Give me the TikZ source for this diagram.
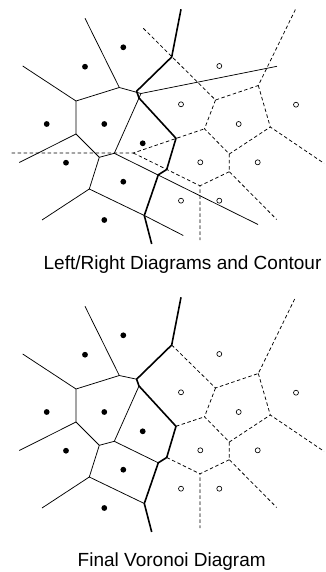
\documentclass[tikz,border=0pt]{standalone}
\usepackage{fontspec}
\setmainfont{Liberation Sans}
\usepackage{tikz}
\usepackage{xcolor}
\usetikzlibrary{calc}
\definecolor{ink}{HTML}{000000}

% vertices of both diagrams and the contour
\newcommand{\vorpoints}{%
  \coordinate (A) at (119.3,87.5);
  \coordinate (B) at (76,101);
  \coordinate (C) at (76,134);
  \coordinate (D) at (99.3,157.3);
  \coordinate (E) at (114.3,153.3);
  \coordinate (F) at (89.3,189);
  \coordinate (G) at (144.3,215.5);
  \coordinate (V) at (141,93.5);
  \coordinate (a1) at (85,18.3);
  \coordinate (b1) at (22.7,66);
  \coordinate (c1) at (19.3,162.5);
  \coordinate (f1) at (42,220);
  \coordinate (g1) at (183.3,235.5);
  \coordinate (e1) at (258,224.5);
  \coordinate (v1) at (277,66.3);
  \coordinate (k0) at (181,9.3);
  \coordinate (k1) at (171.7,57);
  \coordinate (H) at (136.6,91.2);
  \coordinate (I) at (139,98);
  \coordinate (k4) at (176,138.3);
  \coordinate (k5) at (166.7,169.5);
  \coordinate (k6) at (158.3,174.8);
  \coordinate (k7) at (151.7,244);
  \coordinate (R1) at (215.5,100);
  \coordinate (R2) at (258.3,85.5);
  \coordinate (R3) at (270.3,127);
  \coordinate (R4) at (204.5,128.8);
  \coordinate (R5) at (229.3,154);
  \coordinate (R6) at (229.3,171.7);
  \coordinate (R7) at (200,185.8);
  \coordinate (R8) at (133.3,153);
  \coordinate (r0) at (143.3,28.3);
  \coordinate (r2) at (295.5,9.3);
  \coordinate (r3) at (324,163.3);
  \coordinate (r6) at (276.7,219.5);
  \coordinate (r7) at (200,240);
  \coordinate (r8) at (11.7,153);
}
\newcommand{\vorsites}{%
  \foreach \p in {(123.3,47.3),(85,66.7),(46.7,124),(104.3,124),(142.7,143.3),(66,162.7),(123.3,181.7),(104.3,220)}
    \fill[lsite] \p circle (2.9pt);
  \foreach \p in {(219.3,66),(181,104.3),(296,104.7),(238.7,124),(200.3,162.3),(257.7,162.3),(181,200.7),(219.3,200.7)}
    \draw[rsite] \p circle (2.5pt);
}

\begin{document}
\begin{tikzpicture}[x=1pt,y=-1pt,
    leftedge/.style={ink,line width=0.75pt},
    contour/.style={ink,line width=1.6pt,line join=round},
    rightedge/.style={ink,line width=0.75pt,dash pattern=on 3.5pt off 2.5pt},
    lsite/.style={fill=ink},
    rsite/.style={draw=ink,fill=white,line width=0.65pt},
    caption/.style={inner sep=0pt,text=ink,font=\fontsize{19}{22}\selectfont}]
  \useasboundingbox (0,0) rectangle (325,572);
  % left/right diagrams and the contour
  \begin{scope}
    \vorpoints
    \draw[leftedge] (a1) -- (A) -- (B) -- (b1);
    \draw[leftedge] (B) -- (C) -- (c1);
    \draw[leftedge] (C) -- (D) -- (E) -- (V) -- (v1);
    \draw[leftedge] (A) -- (V);
    \draw[leftedge] (D) -- (F) -- (f1);
    \draw[leftedge] (F) -- (G) -- (g1);
    \draw[leftedge] (E) -- (e1);
    \draw[rightedge] (r0) -- (R1) -- (R2) -- (r2);
    \draw[rightedge] (R2) -- (R3) -- (r3);
    \draw[rightedge] (R1) -- (R4) -- (R5) -- (R3);
    \draw[rightedge] (R5) -- (R6) -- (r6);
    \draw[rightedge] (R6) -- (R7) -- (r7);
    \draw[rightedge] (r8) -- (R8) -- (R4);
    \draw[rightedge] (R8) -- (R7);
    \draw[contour] (k0) -- (k1) -- (H) -- (I) -- (k4) -- (k5) -- (k6) -- (G) -- (k7);
    \vorsites
  \end{scope}
  \node[caption] (toplabel) at (182.5,265) {Left/Right Diagrams and Contour};
  % final diagram
  \begin{scope}[yshift=-288pt]
    \vorpoints
    \draw[leftedge] (a1) -- (A) -- (B) -- (b1);
    \draw[leftedge] (B) -- (C) -- (c1);
    \draw[leftedge] (C) -- (D) -- (E) -- (I);
    \draw[leftedge] (A) -- (H);
    \draw[leftedge] (D) -- (F) -- (f1);
    \draw[leftedge] (F) -- (G);
    \draw[leftedge] (E) -- (k6);
    \draw[rightedge] (k1) -- (R1) -- (R2) -- (r2);
    \draw[rightedge] (R2) -- (R3) -- (r3);
    \draw[rightedge] (R1) -- (R4) -- (R5) -- (R3);
    \draw[rightedge] (R5) -- (R6) -- (r6);
    \draw[rightedge] (R6) -- (R7) -- (r7);
    \draw[rightedge] (k4) -- (R4);
    \draw[rightedge] (k5) -- (R7);
    \draw[contour] (k0) -- (k1) -- (H) -- (I) -- (k4) -- (k5) -- (k6) -- (G) -- (k7);
    \vorsites
  \end{scope}
  \node[caption] (botlabel) at (171.7,561.5) {Final Voronoi Diagram};
\end{tikzpicture}
\end{document}
